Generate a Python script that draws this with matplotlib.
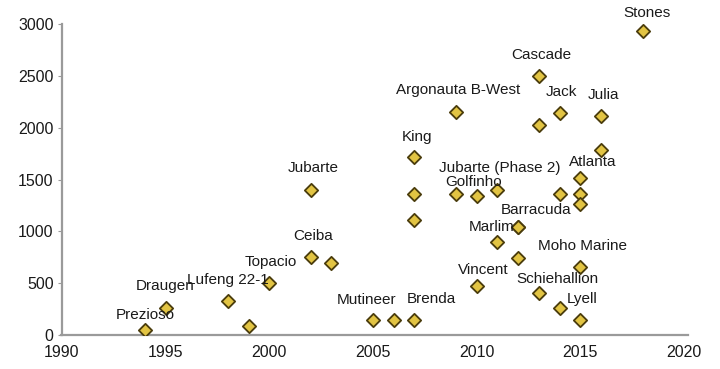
import numpy as np
import matplotlib.pyplot as plt

plt.rcParams['font.family'] = ['Liberation Sans', 'DejaVu Sans']

# project start year and value for each point
years = [1994, 1995, 1998, 1999, 2000, 2002, 2003, 2002,
         2005, 2006, 2007, 2007, 2007, 2007,
         2009, 2009, 2010, 2011, 2011, 2012, 2012, 2010,
         2013, 2014, 2015, 2015, 2014, 2015, 2015, 2015,
         2016, 2016, 2014, 2013, 2013, 2018, 2012]
values = [50, 260, 330, 90, 500, 750, 695, 1400,
          145, 145, 145, 1715, 1360, 1110,
          2150, 1360, 1340, 1400, 900, 1040, 740, 470,
          405, 260, 145, 655, 1360, 1360, 1260, 1510,
          1785, 2110, 2140, 2025, 2500, 2930, 1040]

# field names and where their text sits
names = ["Prezioso", "Draugen", "Lufeng 22-1", "Topacio", "Ceiba", "Jubarte",
         "Mutineer", "Brenda", "King", "Argonauta B-West", "Cascade", "Jack",
         "Julia", "Stones", "Atlanta", "Jubarte (Phase 2)", "Golfinho",
         "Barracuda", "Marlim", "Moho Marine", "Vincent", "Schiehallion", "Lyell"]
name_x = [1994.0, 1995.0, 1998.0, 2000.05, 2002.1, 2002.1,
          2004.7, 2007.8, 2007.1, 2009.1, 2013.1, 2014.1,
          2016.1, 2018.2, 2015.6, 2011.1, 2009.85,
          2012.85, 2010.7, 2015.1, 2010.3, 2013.9, 2015.1]
name_y = [193, 470, 530, 705, 955, 1610,
          337, 350, 1910, 2360, 2700, 2345,
          2315, 3105, 1670, 1610, 1475,
          1205, 1040, 858, 627, 540, 347]

fig = plt.figure(figsize=(7.2, 3.69), dpi=100)
ax = fig.add_axes([0.086, 0.092, 0.864, 0.843])

ax.scatter(years, values, marker='D', s=46, facecolor='#e2c443',
           edgecolor='#4a3c0c', linewidth=1.3, zorder=3)

for n, x, y in zip(names, name_x, name_y):
    ax.text(x, y, n, ha='center', va='center', fontsize=11,
            color='#1a1a1a', zorder=4)

ax.set_xlim(1990, 2020)
ax.set_ylim(0, 3000)
ax.set_xticks(np.arange(1990, 2021, 5))
ax.set_yticks(np.arange(0, 3001, 500))

for s in ['top', 'right']:
    ax.spines[s].set_visible(False)
for s in ['left', 'bottom']:
    ax.spines[s].set_color('#9a9a9a')
    ax.spines[s].set_linewidth(1.6)
ax.spines['bottom'].set_bounds(1989.95, 2020.2)

ax.tick_params(axis='y', length=3, color='#9a9a9a', labelsize=11.5, pad=3,
               labelcolor='#1a1a1a')
ax.tick_params(axis='x', length=0, labelsize=11.5, pad=7,
               labelcolor='#1a1a1a')

fig.savefig('out.png', dpi=100)
